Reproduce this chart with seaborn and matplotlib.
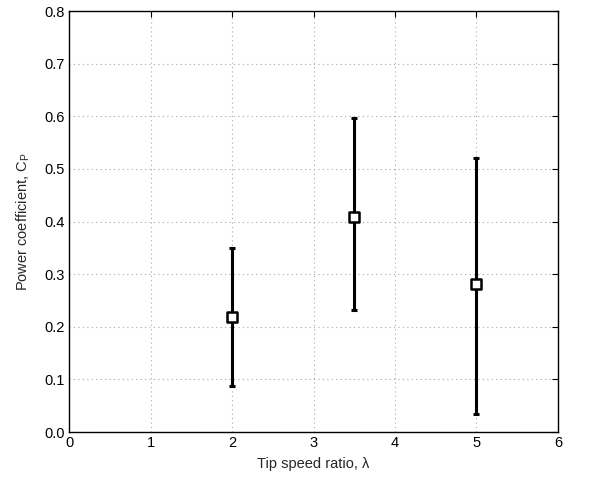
import matplotlib
matplotlib.use("Agg")
import matplotlib.pyplot as plt
import seaborn as sns
import pandas as pd
from matplotlib.ticker import FormatStrFormatter

# Measured power coefficient vs tip speed ratio, with min/max range
tsr = [2.0, 3.5, 5.0]
cp_mean = [0.219, 0.409, 0.281]
cp_low = [0.087, 0.232, 0.034]
cp_high = [0.349, 0.596, 0.520]

x_ticks = [0, 1, 2, 3, 4, 5, 6]
y_ticks = [0.0, 0.1, 0.2, 0.3, 0.4, 0.5, 0.6, 0.7, 0.8]

df = pd.DataFrame({"tsr": tsr, "cp": cp_mean, "lo": cp_low, "hi": cp_high})

sns.set_style("white")
plt.rcParams["font.family"] = ["Liberation Sans", "DejaVu Sans"]
plt.rcParams["mathtext.fontset"] = "custom"
plt.rcParams["mathtext.rm"] = "Liberation Sans"
plt.rcParams["mathtext.it"] = "Liberation Sans"

fig = plt.figure(figsize=(5.98, 4.79), dpi=100)
ax = fig.add_axes([0.1154, 0.0981, 0.8177, 0.8789])

yerr = [df["cp"] - df["lo"], df["hi"] - df["cp"]]
ax.errorbar(df["tsr"], df["cp"], yerr=yerr, fmt="none", ecolor="black",
            elinewidth=2.2, capsize=2.3, capthick=2.2, zorder=3)
sns.scatterplot(data=df, x="tsr", y="cp", ax=ax, marker="s", s=52,
                facecolor="white", edgecolor="black", linewidth=1.8,
                zorder=4, legend=False)

ax.set_xlim(0, 6)
ax.set_ylim(0, 0.8)
ax.set_xticks(x_ticks)
ax.set_yticks(y_ticks)
ax.yaxis.set_major_formatter(FormatStrFormatter("%.1f"))

ax.grid(True, linestyle=(0, (1, 3)), color="#a8a8a8", linewidth=0.8)
ax.set_axisbelow(True)
for s in ax.spines.values():
    s.set_visible(True)
    s.set_color("black")
    s.set_linewidth(1.0)
ax.tick_params(direction="in", length=4, width=0.8, top=True, right=True,
               labelsize=10.5, colors="black", pad=3)

ax.set_xlabel("Tip speed ratio, λ", fontsize=10.5, labelpad=5)
ax.set_ylabel(r"Power coefficient, C$_{\mathrm{P}}$", fontsize=10.5, labelpad=9)

fig.savefig("out.png", dpi=100)
